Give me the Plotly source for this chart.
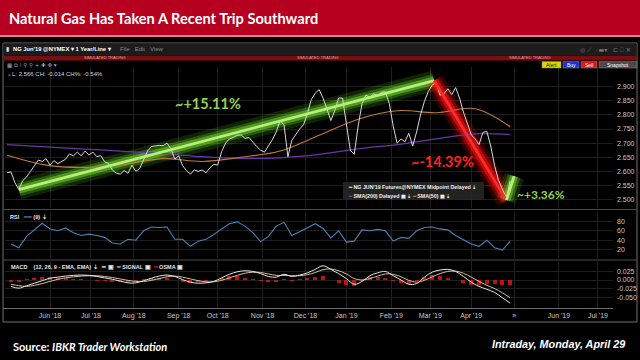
import pandas as pd
import plotly.graph_objects as go
from plotly.subplots import make_subplots

W, H = 640, 360

# ---------------- data ----------------
trade_days = pd.bdate_range("2018-05-01", "2019-04-29")
price_dates = [d.strftime("%Y-%m-%d") for d in trade_days[1::2]]          # 130 samples
ind_dates = price_dates[1::2]                                                # 65 samples
sma_dates = price_dates[::10] + [price_dates[-1]]                            # 14 samples

price = [
    2.595, 2.598, 2.560, 2.536, 2.567, 2.580, 2.600, 2.618, 2.640, 2.635,
    2.645, 2.622, 2.638, 2.627, 2.635, 2.643, 2.662, 2.655, 2.668, 2.655,
    2.672, 2.658, 2.668, 2.652, 2.656, 2.634, 2.628, 2.604, 2.594, 2.590,
    2.603, 2.593, 2.622, 2.600, 2.610, 2.640, 2.672, 2.688, 2.690, 2.692,
    2.691, 2.700, 2.680, 2.643, 2.655, 2.620, 2.602, 2.590, 2.605, 2.600,
    2.605, 2.595, 2.612, 2.625, 2.622, 2.670, 2.700, 2.715, 2.720, 2.728,
    2.729, 2.717, 2.720, 2.703, 2.688, 2.675, 2.668, 2.690, 2.712, 2.740,
    2.780, 2.765, 2.652, 2.710, 2.732, 2.750, 2.765, 2.805, 2.855, 2.877,
    2.890, 2.860, 2.822, 2.780, 2.815, 2.860, 2.860, 2.760, 2.675, 2.660,
    2.760, 2.840, 2.870, 2.862, 2.875, 2.868, 2.880, 2.882, 2.840, 2.760,
    2.700, 2.715, 2.705, 2.735, 2.690, 2.740, 2.800, 2.848, 2.883, 2.906,
    2.915, 2.870, 2.875, 2.893, 2.872, 2.897, 2.860, 2.810, 2.770, 2.730,
    2.715, 2.695, 2.738, 2.742, 2.690, 2.620, 2.568, 2.535, 2.505, 2.566,
]
sma50 = [2.657, 2.622, 2.614, 2.625, 2.645, 2.635, 2.650, 2.672, 2.728, 2.785,
         2.815, 2.808, 2.822, 2.758]
sma200 = [2.695, 2.687, 2.679, 2.671, 2.663, 2.652, 2.646, 2.648, 2.660, 2.680,
          2.695, 2.715, 2.733, 2.730]

rsi = [
    32, 24, 48, 62, 76, 64, 60, 66, 56, 50,
    53, 50, 46, 34, 32, 42, 40, 60, 68, 67,
    68, 42, 42, 27, 38, 42, 52, 64, 75, 79,
    70, 56, 37, 48, 70, 78, 50, 58, 66, 75,
    65, 45, 60, 36, 38, 62, 60, 63, 60, 38,
    46, 44, 60, 67, 68, 64, 62, 50, 41, 32,
    27, 40, 24, 19, 38,
]
macd = [
    -0.018, -0.023, -0.016, -0.009, -0.002, 0.005, 0.008, 0.011, 0.013, 0.014,
    0.013, 0.010, 0.006, 0.002, -0.003, -0.008, -0.008, -0.002, 0.005, 0.011,
    0.014, 0.010, 0.001, -0.006, -0.009, -0.008, -0.004, 0.006, 0.016, 0.023,
    0.026, 0.024, 0.018, 0.010, 0.008, 0.016, 0.010, 0.014, 0.020, 0.030,
    0.040, 0.030, 0.018, 0.004, -0.012, -0.004, 0.012, 0.020, 0.024, 0.012,
    0.000, -0.012, -0.010, 0.008, 0.022, 0.028, 0.030, 0.024, 0.010, -0.006,
    -0.018, -0.026, -0.035, -0.050, -0.065,
]
signal = [
    -0.012, -0.016, -0.018, -0.015, -0.010, -0.004, 0.002, 0.006, 0.009, 0.011,
    0.012, 0.012, 0.010, 0.007, 0.003, -0.001, -0.004, -0.004, -0.001, 0.004,
    0.009, 0.011, 0.008, 0.003, -0.002, -0.005, -0.005, -0.001, 0.006, 0.013,
    0.019, 0.022, 0.021, 0.017, 0.013, 0.013, 0.012, 0.012, 0.015, 0.021,
    0.029, 0.031, 0.026, 0.017, 0.004, 0.000, 0.004, 0.011, 0.017, 0.016,
    0.009, -0.001, -0.006, -0.001, 0.009, 0.018, 0.024, 0.025, 0.019, 0.008,
    -0.004, -0.015, -0.024, -0.036, -0.050,
]
osma = [
    -0.006, -0.007, 0.002, 0.006, 0.008, 0.009, 0.006, 0.005, 0.004, 0.003,
    0.001, -0.002, -0.004, -0.005, -0.006, -0.007, -0.004, 0.002, 0.006, 0.007,
    0.005, -0.001, -0.007, -0.009, -0.007, -0.003, 0.001, 0.007, 0.010, 0.010,
    0.007, 0.002, -0.003, -0.007, -0.005, 0.003, -0.002, 0.002, 0.005, 0.009,
    0.011, -0.001, -0.008, -0.013, -0.016, -0.004, 0.008, 0.009, 0.007, -0.004,
    -0.009, -0.011, -0.004, 0.009, 0.013, 0.010, 0.006, -0.001, -0.009, -0.014,
    -0.014, -0.011, -0.011, -0.014, -0.015,
]

# hand-drawn trend annotations (date, price)
trend_up_dates, trend_up = ["2018-05-10", "2019-03-05"], [2.535, 2.922]
trend_down_dates, trend_down = ["2019-03-05", "2019-04-25"], [2.922, 2.498]
trend_reb_dates, trend_reb = ["2019-04-25", "2019-05-01"], [2.498, 2.583]
pct_labels = ["~+15.11%", "~-14.39%", "~+3.36%"]

month_ticks = ["2018-06-01", "2018-07-02", "2018-08-01", "2018-09-03", "2018-10-01",
               "2018-11-01", "2018-12-03", "2019-01-01", "2019-02-01", "2019-03-01",
               "2019-04-01", "2019-05-01", "2019-06-03", "2019-07-01"]
month_labels = ["Jun '18", "Jul '18", "Aug '18", "Sep '18", "Oct '18", "Nov '18", "Dec '18",
                "Jan '19", "Feb '19", "Mar '19", "Apr '19", "»", "Jun '19", "Jul '19"]
price_ticks = [2.50, 2.55, 2.60, 2.65, 2.70, 2.75, 2.80, 2.85, 2.90]
rsi_ticks = [20, 40, 60, 80]
macd_ticks = [0.025, 0.0, -0.025, -0.050]
macd_tick_text = ["0.025", "0.000", "-0.025", "-0.050"]

# ---------------- helpers ----------------
def X(p):
    return p / W


def Y(p):
    return 1 - p / H


UI_FONT = "Liberation Sans"
GREEN = "#92d050"

fig = make_subplots(rows=3, cols=1, shared_xaxes=True)


def glow(dates, vals, layers):
    for width, color in layers:
        fig.add_trace(go.Scatter(x=dates, y=vals, mode="lines", hoverinfo="skip",
                                 line=dict(color=color, width=width), showlegend=False),
                      row=1, col=1)


green_glow = [(20, "rgba(90,200,30,0.18)"), (13, "rgba(100,210,40,0.30)"),
              (8, "rgba(120,220,50,0.50)")]
red_glow = [(20, "rgba(255,0,0,0.18)"), (13, "rgba(255,10,10,0.32)"),
            (8, "rgba(255,20,20,0.55)")]
glow(trend_up_dates, trend_up, green_glow)
glow(trend_down_dates, trend_down, red_glow)
glow(trend_reb_dates, trend_reb, green_glow)

fig.add_trace(go.Scatter(x=sma_dates, y=sma200, mode="lines",
                         line=dict(color="#6b35a8", width=1.3, shape="spline"), showlegend=False), row=1, col=1)
fig.add_trace(go.Scatter(x=sma_dates, y=sma50, mode="lines",
                         line=dict(color="#c07a3a", width=1.1, shape="spline"), showlegend=False), row=1, col=1)
fig.add_trace(go.Scatter(x=price_dates, y=price, mode="lines",
                         line=dict(color="#d9d9d9", width=1), showlegend=False), row=1, col=1)

for d, v, c in [(trend_up_dates, trend_up, "#b6f07a"), (trend_down_dates, trend_down, "#ff2a2a"),
                (trend_reb_dates, trend_reb, "#b6f07a")]:
    fig.add_trace(go.Scatter(x=d, y=v, mode="lines", line=dict(color=c, width=2.8),
                             showlegend=False), row=1, col=1)

fig.add_trace(go.Scatter(x=ind_dates, y=rsi, mode="lines", line=dict(color="#4f7fb8", width=1.1),
                         showlegend=False), row=2, col=1)
fig.add_trace(go.Bar(x=ind_dates, y=osma, marker=dict(color="rgba(215,25,25,0.85)", line=dict(width=0)),
                     width=2 * 86400000, showlegend=False), row=3, col=1)
fig.add_trace(go.Scatter(x=ind_dates, y=signal, mode="lines",
                         line=dict(color="#d9bf94", width=1, shape="spline"), showlegend=False), row=3, col=1)
fig.add_trace(go.Scatter(x=ind_dates, y=macd, mode="lines",
                         line=dict(color="#e6e6e6", width=1, shape="spline"), showlegend=False), row=3, col=1)

xdom = [X(5), X(613)]
xrange_ = ["2018-04-30 22:00", "2019-07-10 17:00"]
GRID = "#1f1f1f"
tickfont = dict(family=UI_FONT, size=7, color="#c8c8c8")

fig.update_xaxes(type="date", range=xrange_, rangebreaks=[dict(bounds=["sat", "mon"])],
                 tickvals=month_ticks, ticktext=month_labels, showgrid=True, gridcolor=GRID,
                 gridwidth=1, zeroline=False, showline=False, ticks="", ticklen=0, tickfont=tickfont,
                 domain=xdom, fixedrange=True, automargin=False)
yax = dict(side="right", gridcolor=GRID, zeroline=False, tickfont=tickfont, ticks="", ticklen=0,
           ticklabelstandoff=3, automargin=False, fixedrange=True)
fig.update_layout(
    yaxis=dict(domain=[Y(208), Y(67)], range=[2.470, 2.970], tickvals=price_ticks,
               ticktext=[f"{v:.3f}" for v in price_ticks], **yax),
    yaxis2=dict(domain=[Y(259), Y(212)], range=[0, 100], tickvals=rsi_ticks, **yax),
    yaxis3=dict(domain=[Y(308), Y(261)], range=[-0.0787, 0.0534], tickvals=macd_ticks,
                ticktext=macd_tick_text, **yax),
)
fig.update_layout(xaxis3=dict(ticklabelstandoff=2))

shapes = [
    dict(type="rect", xref="paper", yref="paper", x0=0, x1=1, y0=Y(35), y1=1,
         fillcolor="#b5001f", line=dict(width=0), layer="below"),
    dict(type="rect", xref="paper", yref="paper", x0=0, x1=1, y0=Y(37), y1=Y(35),
         fillcolor="#d9838f", line=dict(width=0), layer="below"),
    dict(type="rect", xref="paper", yref="paper", x0=X(3), x1=X(637), y0=Y(322), y1=Y(43),
         fillcolor="#000000", line=dict(color="#6e6e6e", width=1), layer="below"),
    dict(type="rect", xref="paper", yref="paper", x0=X(3.5), x1=X(636.5), y0=Y(55), y1=Y(43.5),
         fillcolor="#1c1c1c", line=dict(width=0), layer="below"),
    dict(type="rect", xref="paper", yref="paper", x0=X(3.5), x1=X(636.5), y0=Y(60.5), y1=Y(55.5),
         fillcolor="#7a0d10", line=dict(width=0), layer="below"),
    dict(type="line", xref="paper", yref="paper", x0=X(3), x1=X(637), y0=Y(209.5), y1=Y(209.5),
         line=dict(color="#4a4a4a", width=1)),
    dict(type="line", xref="paper", yref="paper", x0=X(3), x1=X(637), y0=Y(260), y1=Y(260),
         line=dict(color="#4a4a4a", width=1)),
    dict(type="line", xref="paper", yref="paper", x0=X(3), x1=X(613), y0=Y(308.5), y1=Y(308.5),
         line=dict(color="#6a6a6a", width=1)),
    dict(type="rect", xref="paper", yref="paper", x0=X(343), x1=X(484), y0=Y(200), y1=Y(182),
         fillcolor="rgba(40,40,40,0.85)", line=dict(width=0)),
]
buttons = [("Alert", 542, 561, "#d8d400", "#202000"), ("Buy", 563, 579, "#1f2fe0", "#ffffff"),
           ("Sell", 581, 597, "#e01414", "#ffffff"), ("Snapshot", 599, 637, "#4a4a4a", "#ffffff")]
for _, x0, x1, fc, _tc in buttons:
    shapes.append(dict(type="rect", xref="paper", yref="paper", x0=X(x0), x1=X(x1), y0=Y(68), y1=Y(61.5),
                       fillcolor=fc, line=dict(color="#888888", width=0.5)))

ann = []


def text(x, y, s, size, color="#ffffff", family=UI_FONT, anchor="left", bold=False, italic=False):
    if bold:
        s = f"<b>{s}</b>"
    if italic:
        s = f"<i>{s}</i>"
    ann.append(dict(x=X(x), y=Y(y), xref="paper", yref="paper", text=s, showarrow=False,
                    xanchor=anchor, yanchor="middle", font=dict(size=size, color=color, family=family)))


text(7, 18, "Natural Gas Has Taken A Recent Trip Southward", 14.6, family="Lato", bold=True)
text(4, 49.5, "▮", 6, color="#e0e0e0")
text(11, 49.5, "NG Jun'19 @NYMEX ▾ 1 Year/Line ▾", 5.8, bold=True)
text(118, 49.5, "File   Edit   View", 6, color="#8a8a8a")
text(578, 49.5, "◎ ⟋  ◦▬▾   ⊏ ⎕ ✕", 6, color="#7a7a7a", family="DejaVu Sans")
for cx in [105, 318, 530]:
    text(cx, 58, "SIMULATED TRADING", 4, color="#e6a2a2", anchor="center")
text(5, 64.5, "▦ ⧉ ⁞ ⚲ ⚲ + ✚ ✜ ▾", 5.5, color="#9aa6b0", family="DejaVu Sans")
text(6, 74, "▴", 5, color="#e03030")
text(10, 74, "L: 2.566 CH: -0.014 CH%: -0.54%", 6, color="#d8d8d8")
for label, x0, x1, _fc, tc in buttons:
    text((x0 + x1) / 2, 64.8, label, 5, color=tc, anchor="center")

text(208, 104, pct_labels[0], 14.5, color=GREEN, family="Lato", anchor="center", bold=True)
text(442, 161, pct_labels[1], 14.5, color="#ff2020", family="Lato", anchor="center", bold=True)
text(541, 194, pct_labels[2], 12, color=GREEN, family="Lato", anchor="center", bold=True)

text(346, 187, "<span style='color:#e0e0e0'>━</span> NG JUN'19 Futures@NYMEX Midpoint Delayed ⇣", 5.3,
     color="#f0f0f0", bold=True)
text(346, 196, "<span style='color:#7b45c0'>━</span> SMA(200) Delayed ▣ ⇣ "
     "<span style='color:#c88040'>━</span> SMA(50) ▣ ⇣", 5.3, color="#f0f0f0", bold=True)
text(8, 217, "RSI   <span style='color:#4f7fb8'>━━</span> (9) ⇣", 5.5, color="#e8e8e8", bold=True)
text(9, 267, "MACD    (12, 26, 9 - EMA, EMA) ⇣   <span style='color:#e8e8e8'>━</span> ▣  "
     "<span style='color:#d9bf94'>━</span> SIGNAL ▣  <span style='color:#d81919'>━</span> OSMA ▣",
     5.5, color="#e8e8e8", bold=True)

text(11, 346, "Source: <i>IBKR Trader Workstation</i>", 11, family="Lato", bold=True)
text(627, 344, "Intraday, Monday, April 29", 10.8, family="Liberation Sans", anchor="right", bold=True, italic=True)

fig.update_layout(width=W, height=H, margin=dict(l=0, r=0, t=0, b=0), paper_bgcolor="#000000",
                  plot_bgcolor="#000000", shapes=shapes, annotations=ann, showlegend=False,
                  bargap=0, hovermode=False)
fig.write_html("out.html", config={"displayModeBar": False, "staticPlot": True},
               post_script="document.body.style.margin='0';document.body.style.background='#000';")
